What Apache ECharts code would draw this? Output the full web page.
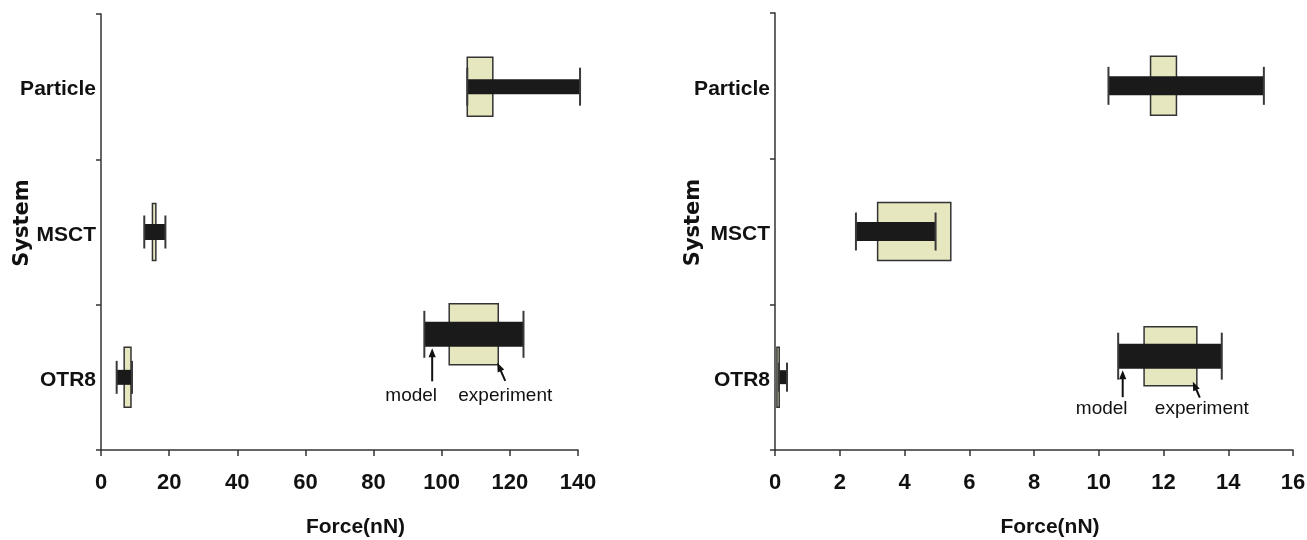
<!DOCTYPE html>
<html>
<head>
<meta charset="utf-8">
<script src="https://cdn.jsdelivr.net/npm/echarts@6/dist/echarts.min.js"></script>
<style>
html,body{margin:0;padding:0;background:#fff;}
#chart{width:1307px;height:540px;}
</style>
</head>
<body>
<div id="chart"></div>
<script>
// ---------------- DATA ----------------
const categories = ['OTR8', 'MSCT', 'Particle'];          // bottom to top
const groupCategory = ['Particle', 'MSCT', 'OTR8', 'OTR8'];

// Left panel
const leftXTicks = [0, 20, 40, 60, 80, 100, 120, 140];
const leftModelLow  = [107.5, 12.7, 4.6, 94.9];
const leftModelHigh = [140.6, 18.9, 9.1, 124.0];
const leftExpLow    = [107.5, 15.1, 6.8, 102.2];
const leftExpHigh   = [115.0, 16.1, 8.8, 116.6];
const leftModelArrowX = 97.2;

// Right panel
const rightXTicks = [0, 2, 4, 6, 8, 10, 12, 14, 16];
const rightModelLow  = [10.3, 2.5, 0.12, 10.6];
const rightModelHigh = [15.1, 4.96, 0.37, 13.8];
const rightExpLow    = [11.6, 3.17, 0.06, 11.4];
const rightExpHigh   = [12.4, 5.43, 0.13, 13.03];
const rightModelArrowX = 10.74;

const xAxisName = 'Force(nN)';
const yAxisName = 'System';
const annModelText = 'model';
const annExpText = 'experiment';

// ---------------- STYLE / LAYOUT ----------------
const LBL = "'Liberation Sans',Arial,sans-serif";
const BOX_FILL = '#e6e6bf';
const BOX_STROKE = '#333333';
const BAR_FILL = '#1a1a1a';
const CAP_COLOR = '#3a3a3a';

const panelLayout = [
  { grid: {left: 101, top: 14, width: 477, height: 436},
    barH: [15, 16, 15, 25], capH: [38, 33, 33, 47], boxH: [59, 57, 60, 61], dy: [0, 0, 0, -43],
    ann: {mTail: 47, textDy: 61, mTextDx: -21, eTip: [-1, -2], eTail: [7, 16], eTextDx: 7},
    yNameGap: 68 },
  { grid: {left: 775, top: 13, width: 518, height: 437},
    barH: [19, 19, 14, 25], capH: [38, 38, 29, 47], boxH: [59, 58, 60, 59], dy: [0, 0, 0, -21],
    ann: {mTail: 41, textDy: 53, mTextDx: -21, eTip: [-4, -4], eTail: [3, 12], eTextDx: 5},
    yNameGap: 71 }
];

const panels = [
  {ticks: leftXTicks, mLo: leftModelLow, mHi: leftModelHigh, eLo: leftExpLow, eHi: leftExpHigh, arrowX: leftModelArrowX},
  {ticks: rightXTicks, mLo: rightModelLow, mHi: rightModelHigh, eLo: rightExpLow, eHi: rightExpHigh, arrowX: rightModelArrowX}
];

// ---------------- BUILD ----------------
const grids = [], xAxes = [], yAxes = [], series = [];

function arrow(tail, tip, color) {
  const dx = tip[0] - tail[0], dy = tip[1] - tail[1];
  const len = Math.sqrt(dx * dx + dy * dy);
  const ux = dx / len, uy = dy / len;
  const nx = -uy, ny = ux;
  const hl = 9, hw = 3.6;
  const base = [tip[0] - ux * hl, tip[1] - uy * hl];
  return [
    {type: 'line', shape: {x1: tail[0], y1: tail[1], x2: base[0] + ux, y2: base[1] + uy},
     style: {stroke: color, lineWidth: 2}},
    {type: 'polygon', shape: {points: [tip, [base[0] + nx * hw, base[1] + ny * hw], [base[0] - nx * hw, base[1] - ny * hw]]},
     style: {fill: color}}
  ];
}

panels.forEach((p, pi) => {
  const L = panelLayout[pi];
  grids.push(Object.assign({containLabel: false, outerBoundsMode: 'none'}, L.grid));
  const tmin = p.ticks[0], tmax = p.ticks[p.ticks.length - 1];
  const interval = p.ticks[1] - p.ticks[0];
  xAxes.push({
    type: 'value', gridIndex: pi, min: tmin, max: tmax, interval: interval,
    axisLine: {show: true, onZero: false, lineStyle: {color: '#333', width: 1.5}},
    axisTick: {show: true, length: 6, lineStyle: {color: '#333', width: 1.5}},
    splitLine: {show: false},
    axisLabel: {fontFamily: LBL, fontWeight: 'bold', fontSize: 22, color: '#111', margin: 22},
    name: xAxisName, nameLocation: 'middle', nameGap: 67, nameMoveOverlap: false,
    nameTextStyle: {fontFamily: LBL, fontWeight: 'bold', fontSize: 21, color: '#111', padding: [0, 0, 0, 32]}
  });
  yAxes.push({
    type: 'category', gridIndex: pi, data: categories,
    axisLine: {show: true, lineStyle: {color: '#333', width: 1.5}},
    axisTick: {show: true, length: 5, lineStyle: {color: '#333', width: 1.5}},
    splitLine: {show: false},
    axisLabel: {fontFamily: LBL, fontWeight: 'bold', fontSize: 21, color: '#111', margin: 5,
                verticalAlign: 'top', lineHeight: 6},
    name: yAxisName, nameLocation: 'middle', nameGap: L.yNameGap, nameRotate: 90, nameMoveOverlap: false,
    nameTextStyle: {fontFamily: "'DejaVu Sans','Liberation Sans',sans-serif", fontWeight: 'bold', fontSize: 21, color: '#111', padding: [0, 0, 0, 18]}
  });

  const expData = groupCategory.map((c, i) => [c, p.eLo[i], p.eHi[i], i]);
  const modelData = groupCategory.map((c, i) => [c, p.mLo[i], p.mHi[i], i]);

  // Experiment boxes
  series.push({
    type: 'custom', xAxisIndex: pi, yAxisIndex: pi, clip: false, z: 2,
    encode: {x: [1, 2], y: 0},
    data: expData,
    renderItem: function (params, api) {
      const cat = api.value(0), g = api.value(3);
      const a = api.coord([api.value(1), cat]);
      const b = api.coord([api.value(2), cat]);
      const cy = a[1] + L.dy[g];
      const h = L.boxH[g];
      return {type: 'rect', shape: {x: a[0], y: cy - h / 2, width: b[0] - a[0], height: h},
              style: {fill: BOX_FILL, stroke: BOX_STROKE, lineWidth: 1.5}};
    }
  });

  // Model bars with end caps
  series.push({
    type: 'custom', xAxisIndex: pi, yAxisIndex: pi, clip: false, z: 3,
    encode: {x: [1, 2], y: 0},
    data: modelData,
    renderItem: function (params, api) {
      const cat = api.value(0), g = api.value(3);
      const a = api.coord([api.value(1), cat]);
      const b = api.coord([api.value(2), cat]);
      const cy = a[1] + L.dy[g];
      const h = L.barH[g], ch = L.capH[g];
      return {type: 'group', children: [
        {type: 'rect', shape: {x: a[0], y: cy - h / 2, width: b[0] - a[0], height: h}, style: {fill: BAR_FILL}},
        {type: 'line', shape: {x1: a[0], y1: cy - ch / 2, x2: a[0], y2: cy + ch / 2}, style: {stroke: CAP_COLOR, lineWidth: 2}},
        {type: 'line', shape: {x1: b[0], y1: cy - ch / 2, x2: b[0], y2: cy + ch / 2}, style: {stroke: CAP_COLOR, lineWidth: 2}}
      ]};
    }
  });

  // Annotations (model / experiment arrows)
  const gi = 3;
  series.push({
    type: 'custom', xAxisIndex: pi, yAxisIndex: pi, clip: false, z: 4,
    encode: {x: [1, 2], y: 0},
    data: [[groupCategory[gi], p.arrowX, p.eHi[gi], gi]],
    renderItem: function (params, api) {
      const cat = api.value(0), g = api.value(3);
      const am = api.coord([api.value(1), cat]);
      const ae = api.coord([api.value(2), cat]);
      const cy = am[1] + L.dy[g];
      const A = L.ann;
      const ax = am[0];
      const bx = ae[0], by = cy + L.boxH[g] / 2;
      const children = [];
      arrow([ax, cy + A.mTail], [ax, cy + L.barH[g] / 2 + 1.5], '#111').forEach(e => children.push(e));
      arrow([bx + A.eTail[0], by + A.eTail[1]], [bx + A.eTip[0], by + A.eTip[1]], '#111').forEach(e => children.push(e));
      children.push({type: 'text', style: {text: annModelText, x: ax + A.mTextDx, y: cy + A.textDy,
        align: 'center', verticalAlign: 'middle', font: '19px ' + LBL, fill: '#111'}});
      children.push({type: 'text', style: {text: annExpText, x: bx + A.eTextDx, y: cy + A.textDy,
        align: 'center', verticalAlign: 'middle', font: '19px ' + LBL, fill: '#111'}});
      return {type: 'group', children: children};
    }
  });
});

const chart = echarts.init(document.getElementById('chart'), null, {renderer: 'canvas'});
chart.setOption({
  backgroundColor: '#ffffff',
  animation: false,
  grid: grids,
  xAxis: xAxes,
  yAxis: yAxes,
  series: series
});
</script>
</body>
</html>
